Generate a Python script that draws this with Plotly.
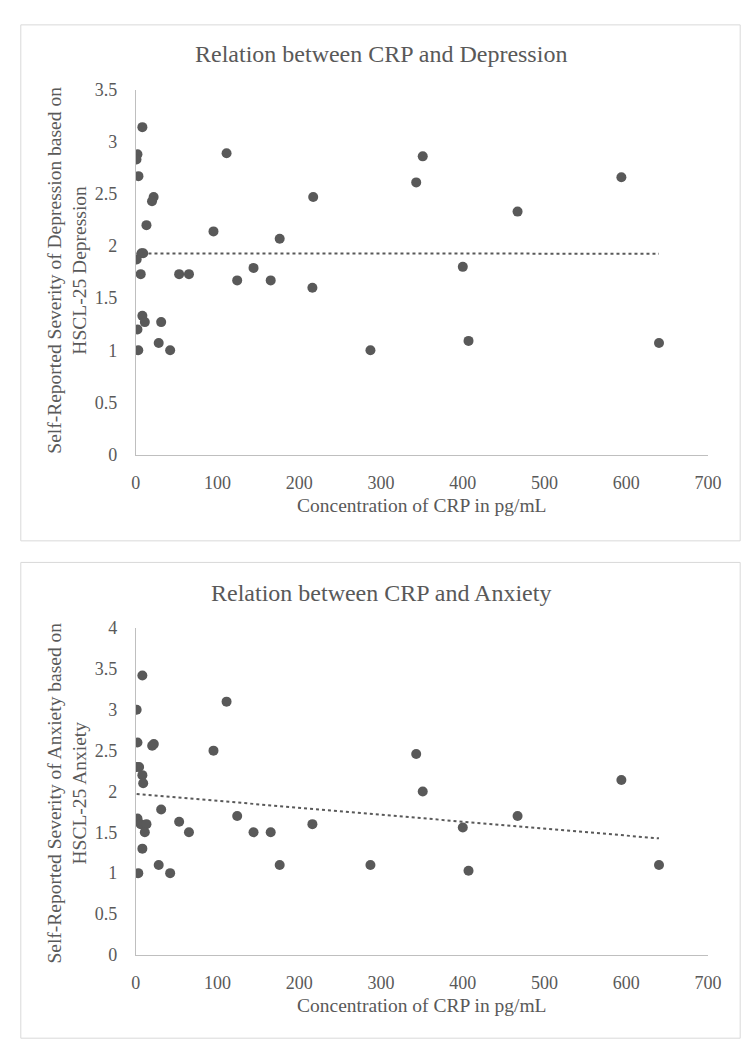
import numpy as np
import plotly.graph_objects as go

# ---- data ----
crp_dep = [8, 2, 0.8, 3.2, 111, 21.8, 19.8, 217, 13, 95, 176, 7, 9, 1, 6, 53, 65, 144, 124, 165, 216,
           8, 11, 31, 2, 28, 3, 42, 351, 343, 467, 594, 400, 287, 407, 640]
depression = [3.14, 2.88, 2.83, 2.67, 2.89, 2.47, 2.43, 2.47, 2.20, 2.14, 2.07, 1.93, 1.93, 1.87, 1.73, 1.73, 1.73, 1.79, 1.67, 1.67, 1.60,
              1.33, 1.27, 1.27, 1.20, 1.07, 1.00, 1.00, 2.86, 2.61, 2.33, 2.66, 1.80, 1.00, 1.09, 1.07]

crp_anx = [8, 111, 1, 2, 20, 22, 95, 1, 4, 8, 9, 31, 2, 6, 13, 11, 53, 65, 124, 144, 165, 216,
           8, 28, 176, 3, 42, 343, 351, 594, 467, 400, 287, 407, 640]
anxiety = [3.42, 3.10, 3.00, 2.60, 2.56, 2.58, 2.50, 2.30, 2.30, 2.20, 2.10, 1.78, 1.67, 1.60, 1.60, 1.50, 1.63, 1.50, 1.70, 1.50, 1.50, 1.60,
           1.30, 1.10, 1.10, 1.00, 1.00, 2.46, 2.00, 2.14, 1.70, 1.56, 1.10, 1.03, 1.10]

x_ticks = [0, 100, 200, 300, 400, 500, 600, 700]
dep_ticks = [0, 0.5, 1, 1.5, 2, 2.5, 3, 3.5]
anx_ticks = [0, 0.5, 1, 1.5, 2, 2.5, 3, 3.5, 4]

titles = ["Relation between CRP and Depression", "Relation between CRP and Anxiety"]
x_title = "Concentration of CRP in pg/mL"
y_titles = ["Self-Reported Severity of Depression based on<br>HSCL-25 Depression",
            "Self-Reported Severity of Anxiety based on<br>HSCL-25 Anxiety"]

# ---- layout helpers ----
W, H = 754, 1050
FONT = "Liberation Serif, Times New Roman, serif"
TXT = "#595959"
DOT = "#595959"

def px(x):
    return x / W

def py(y):
    return 1 - y / H

def trend(xs, ys):
    xs = np.asarray(xs, float)
    ys = np.asarray(ys, float)
    m, b = np.polyfit(xs, ys, 1)
    xx = np.array([xs.min(), xs.max()])
    return xx, m * xx + b

fig = go.Figure()

# top chart
fig.add_trace(go.Scatter(x=crp_dep, y=depression, mode="markers",
                         marker=dict(color=DOT, size=10), xaxis="x", yaxis="y", showlegend=False))
tx, ty = trend(crp_dep, depression)
fig.add_trace(go.Scatter(x=tx, y=ty, mode="lines", line=dict(color=DOT, width=2, dash="dot"),
                         xaxis="x", yaxis="y", showlegend=False))

# bottom chart
fig.add_trace(go.Scatter(x=crp_anx, y=anxiety, mode="markers",
                         marker=dict(color=DOT, size=10), xaxis="x2", yaxis="y2", showlegend=False))
tx, ty = trend(crp_anx, anxiety)
fig.add_trace(go.Scatter(x=tx, y=ty, mode="lines", line=dict(color=DOT, width=2, dash="dot"),
                         xaxis="x2", yaxis="y2", showlegend=False))

xdom = [px(126), px(713)]
common_x = dict(range=[0, 700], tickvals=x_ticks, showgrid=False, zeroline=False,
                showline=True, linecolor="#bfbfbf", linewidth=1, ticks="",
                tickfont=dict(family=FONT, size=18, color=TXT), fixedrange=True,
                ticklabelstandoff=12)
common_y = dict(showgrid=False, zeroline=False, showline=True, linecolor="#bfbfbf", linewidth=1,
                ticks="", tickfont=dict(family=FONT, size=18, color=TXT), fixedrange=True,
                ticklabelstandoff=14)

fig.update_layout(
    width=W, height=H,
    margin=dict(l=0, r=0, t=0, b=0),
    paper_bgcolor="white", plot_bgcolor="white",
    xaxis=dict(domain=xdom, anchor="y", **common_x),
    yaxis=dict(domain=[py(445), py(73)], anchor="x", range=[0, 3.5], tickvals=dep_ticks, **common_y),
    xaxis2=dict(domain=xdom, anchor="y2", **common_x),
    yaxis2=dict(domain=[py(955), py(622)], anchor="x2", range=[0, 4], tickvals=anx_ticks, **common_y),
)

# chart boxes
for (y0, y1) in [(7, 533), (555, 1040)]:
    fig.add_shape(type="rect", xref="paper", yref="paper",
                  x0=px(8), x1=px(746), y0=py(y1), y1=py(y0),
                  line=dict(color="#d9d9d9", width=1), fillcolor="rgba(0,0,0,0)", layer="below")

ann = []
for t, yc in zip(titles, [37, 586]):
    ann.append(dict(text=t, x=px(377), y=py(yc), xref="paper", yref="paper",
                    showarrow=False, xanchor="center", yanchor="middle",
                    font=dict(family=FONT, size=24, color=TXT)))
for yc in [497, 1007]:
    ann.append(dict(text=x_title, x=px(420), y=py(yc), xref="paper", yref="paper",
                    showarrow=False, xanchor="center", yanchor="middle",
                    font=dict(family=FONT, size=19.5, color=TXT)))
for t, yc in zip(y_titles, [257, 790]):
    ann.append(dict(text=t, x=px(55), y=py(yc), xref="paper", yref="paper",
                    showarrow=False, xanchor="center", yanchor="middle", textangle=-90,
                    font=dict(family=FONT, size=19.5, color=TXT)))
fig.update_layout(annotations=ann)

fig.write_html("out.html")
